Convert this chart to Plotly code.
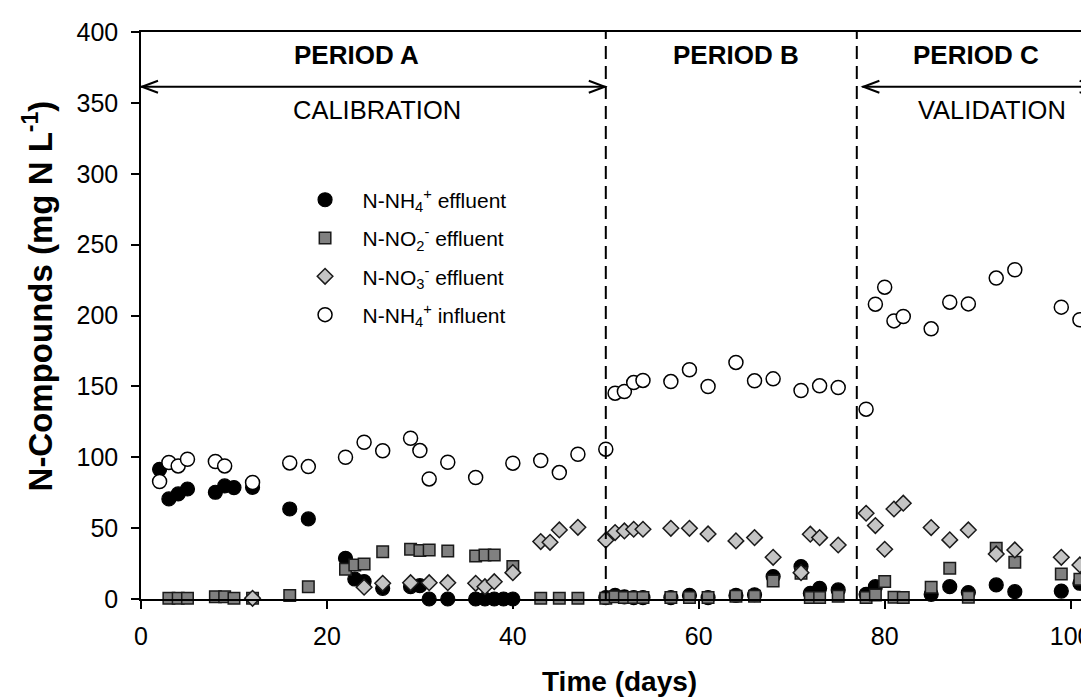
import plotly.graph_objects as go

# ---- data (days, mg N/L) ----
nh4_eff_day = [2, 3, 4, 5, 8, 9, 10, 12, 16, 18, 22, 23, 24, 26, 29, 30, 31, 33,
               36, 37, 38, 39, 40, 50, 51, 52, 53, 54, 57, 59, 61, 64, 66, 68,
               71, 72, 73, 75, 78, 79, 85, 87, 89, 92, 94, 99, 101, 103]
nh4_eff_val = [91.5, 70.6, 74.1, 77.6, 75.3, 79.8, 78.6, 78.8, 63.5, 56.5, 28.7, 14.1,
               12.3, 7.5, 8.7, 9.4, 0, 0, 0, 0, 0, 0, 0, 1, 2.5, 1.5, 1, 1, 1, 2.5, 1,
               2.5, 3, 15.8, 22.9, 4, 7.5, 6.4, 3.3, 8.7, 3.3, 8.7, 4.5, 9.9, 5.2,
               5.6, 11.1, 13]

no2_eff_day = [3, 4, 5, 8, 9, 10, 12, 16, 18, 22, 23, 24, 26, 29, 30, 31, 33, 36, 37,
               38, 40, 43, 45, 47, 50, 51, 52, 53, 54, 57, 59, 61, 64, 66, 68, 71, 72,
               73, 75, 78, 79, 80, 81, 82, 85, 87, 89, 92, 94, 99, 101, 103]
no2_eff_val = [0.5, 0.5, 0.5, 1.5, 1.5, 0.5, 0.5, 2.4, 8.7, 21, 24, 24.7, 33.4, 35.1,
               34.2, 34.6, 33.9, 30.4, 31.1, 31.1, 22.9, 0.5, 0.5, 0.5, 0.5, 1.5, 1, 1,
               1, 1, 1, 1, 2, 2, 12.7, 18.1, 1, 1, 2, 1, 2.8, 12.3, 1.2, 1, 8.3, 21.7,
               1.3, 35.8, 25.9, 17.6, 13.9, 21.7]

no3_eff_day = [12, 24, 26, 29, 31, 33, 36, 37, 38, 40, 43, 44, 45, 47, 50, 51, 52, 53,
               54, 57, 59, 61, 64, 66, 68, 71, 72, 73, 75, 78, 79, 80, 81, 82, 85, 87,
               89, 92, 94, 99, 101, 103]
no3_eff_val = [0.5, 8.3, 11.1, 11.5, 11.5, 11.5, 11.1, 8.7, 12.2, 18.6, 40.5, 40, 48.7,
               50.6, 41.5, 46.9, 48, 49.2, 49.2, 49.9, 49.9, 45.9, 41, 43.3, 29.4, 18.6,
               45.7, 43.3, 38.1, 60.5, 51.8, 35.1, 63.5, 67.6, 50.4, 41.7, 48.7, 31.8,
               34.6, 29.4, 24, 27.1]

nh4_inf_day = [2, 3, 4, 5, 8, 9, 12, 16, 18, 22, 24, 26, 29, 30, 31, 33, 36, 40, 43,
               45, 47, 50, 51, 52, 53, 54, 57, 59, 61, 64, 66, 68, 71, 73, 75, 78, 79,
               80, 81, 82, 85, 87, 89, 92, 94, 99, 101, 103]
nh4_inf_val = [82.9, 96.3, 93.9, 98.6, 97, 93.9, 82.2, 96, 93.4, 100, 110.6, 104.6,
               113.4, 104.7, 84.7, 96.5, 85.7, 95.8, 97.7, 89.2, 102.1, 105.7, 145.2,
               146.4, 152.7, 154.2, 153.4, 161.7, 149.9, 166.9, 153.9, 155.3, 147.1,
               150.4, 149.2, 133.9, 208, 220, 196.2, 199.3, 190.6, 209.4, 208.2, 226.4,
               232.3, 205.9, 197, 194.6]

period_bounds = [0, 50, 77, 102.8]
period_names = ["PERIOD A", "PERIOD B", "PERIOD C"]
period_label_x = [23.2, 64, 89.8]
phase_names = ["CALIBRATION", "VALIDATION"]
phase_label_x = [25.4, 91.5]

x_ticks = [0, 20, 40, 60, 80, 100]
y_ticks = [0, 50, 100, 150, 200, 250, 300, 350, 400]

FONT = "Liberation Sans, Arial, sans-serif"

fig = go.Figure()

series = [
    ("N-NH<sub>4</sub><sup>+</sup> effluent", nh4_eff_day, nh4_eff_val,
     dict(symbol="circle", size=14, color="black", line=dict(color="black", width=1.2))),
    ("N-NO<sub>2</sub><sup>-</sup> effluent", no2_eff_day, no2_eff_val,
     dict(symbol="square", size=11.5, color="#808080", line=dict(color="#1a1a1a", width=1.5))),
    ("N-NO<sub>3</sub><sup>-</sup> effluent", no3_eff_day, no3_eff_val,
     dict(symbol="diamond", size=12, color="#c4c4c4", line=dict(color="#1a1a1a", width=1.5))),
    ("N-NH<sub>4</sub><sup>+</sup> influent", nh4_inf_day, nh4_inf_val,
     dict(symbol="circle", size=14, color="white", line=dict(color="black", width=1.5))),
]
for i, (name, xs, ys, mk) in enumerate(series):
    fig.add_trace(go.Scatter(x=xs, y=ys, mode="markers", name=name, marker=mk,
                             cliponaxis=False, legendgroup=f"g{i}"))

shapes = []
# dashed period separators
for xb in period_bounds[1:3]:
    shapes.append(dict(type="line", xref="x", yref="y", x0=xb, x1=xb, y0=0, y1=400,
                       line=dict(color="black", width=2, dash="13px,7px")))

arrow_y = 361.4
arrows = [(period_bounds[0], period_bounds[1]), (77.6, period_bounds[3])]
for (a0, a1) in arrows:
    shapes.append(dict(type="line", xref="x", yref="y", x0=a0, x1=a1, y0=arrow_y, y1=arrow_y,
                       line=dict(color="black", width=2)))
    shapes.append(dict(type="path", xref="x", yref="y", xsizemode="pixel", ysizemode="pixel",
                       xanchor=a0, yanchor=arrow_y, path="M 17,6 L 1,0 L 17,-6",
                       line=dict(color="black", width=2)))
    shapes.append(dict(type="path", xref="x", yref="y", xsizemode="pixel", ysizemode="pixel",
                       xanchor=a1, yanchor=arrow_y, path="M -17,6 L -1,0 L -17,-6",
                       line=dict(color="black", width=2)))

annotations = []
for nm, xp in zip(period_names, period_label_x):
    annotations.append(dict(x=xp, y=384, xref="x", yref="y", text=f"<b>{nm}</b>",
                            showarrow=False, font=dict(size=26, color="black", family=FONT)))
for nm, xp in zip(phase_names, phase_label_x):
    annotations.append(dict(x=xp, y=345, xref="x", yref="y", text=nm,
                            showarrow=False, font=dict(size=25.5, color="black", family=FONT)))
annotations.append(dict(x=-0.1317, y=213.5, xref="paper", yref="y", textangle=-90,
                        text="<b>N-Compounds (mg N L<sup>-1</sup>)</b>", showarrow=False,
                        font=dict(size=33, color="black", family=FONT)))
annotations.append(dict(x=0.5, y=-0.145, xref="paper", yref="paper",
                        text="<b>Time (days)</b>", showarrow=False, yanchor="middle",
                        font=dict(size=28, color="black", family=FONT)))

fig.update_layout(
    width=1089, height=698,
    margin=dict(l=133, r=0, t=24, b=107),
    paper_bgcolor="white", plot_bgcolor="white",
    font=dict(family=FONT, color="black", size=25),
    shapes=shapes, annotations=annotations,
    showlegend=True,
    legend=dict(x=0.1533, y=0.7397, xanchor="left", yanchor="top",
                font=dict(size=21, family=FONT, color="black"), itemwidth=65,
                bgcolor="rgba(0,0,0,0)", tracegroupgap=8, itemsizing="trace"),
)
fig.update_xaxes(range=[0, 102.84], tickvals=x_ticks, ticks="outside", ticklen=8,
                 tickwidth=1.5, tickcolor="black", showline=True, linecolor="black",
                 linewidth=1.5, mirror=True, showgrid=False, zeroline=False,
                 ticklabelstandoff=6,
                 tickfont=dict(size=25, family=FONT, color="black"))
fig.update_yaxes(range=[0, 400], tickvals=y_ticks, ticks="outside", ticklen=8,
                 tickwidth=1.5, tickcolor="black", showline=True, linecolor="black",
                 linewidth=1.5, mirror=False, showgrid=False, zeroline=False,
                 ticklabelstandoff=8,
                 tickfont=dict(size=25, family=FONT, color="black"))

fig.write_html("out.html")
